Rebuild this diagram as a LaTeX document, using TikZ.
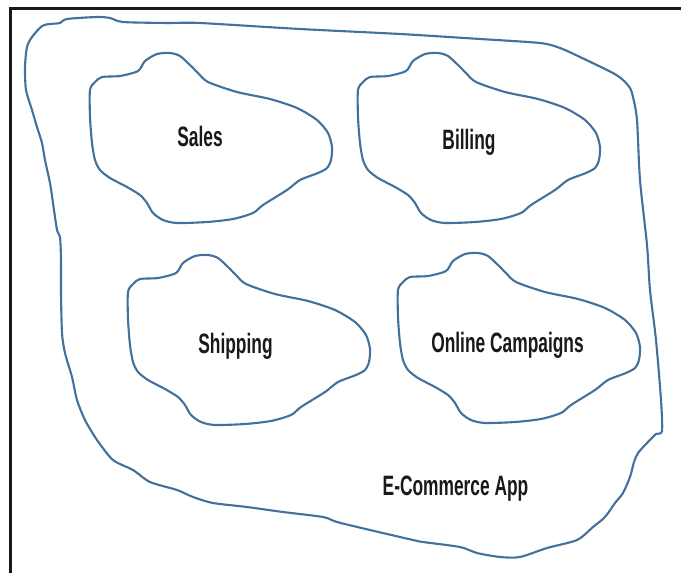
\documentclass[tikz,border=0pt]{standalone}
\usepackage{fontspec}
\newfontfamily\lblfont[FakeStretch=0.62]{Liberation Sans Bold}
\definecolor{blobblue}{RGB}{65,113,156}
\tikzset{
  blobline/.style={draw=blobblue, line width=2.1pt, line join=round},
  framepen/.style={draw=black!90, line width=3pt},
  lbl/.style={font=\lblfont\fontsize{28}{30}\selectfont, text=black!90, inner sep=0pt, anchor=base},
  blobpic/.pic={
    \path[blobline] plot[smooth cycle, tension=0.45] coordinates {
      (0,0) (5,-8) (12,-13) (30,-14) (48,-19) (55,-29) (67,-36) (80,-37) (90,-34)
      (100,-25) (108,-17) (118,-8) (147,2) (180,9) (207,18) (227,30) (238,43)
      (242,57) (241,70) (237,78) (228,83) (210,90) (197,100) (173,115) (163,123)
      (143,129) (117,132) (87,133) (73,130) (63,123) (57,113) (50,105) (37,97)
      (20,88) (10,80) (5,70) (2,53) (0,27)};
  }
}
\begin{document}
\begin{tikzpicture}[x=1pt,y=-1pt]
\useasboundingbox (0,0) rectangle (681,573);
\fill[white] (0,0) rectangle (681,573);
% frame (top and left edges)
\coordinate (fTR) at (681,8.7);
\coordinate (fTL) at (10.7,8.7);
\coordinate (fBL) at (10.7,573);
\draw[framepen] (fTR) -- (fTL) -- (fBL);
% outer region
\draw[blobline] plot[smooth cycle, tension=0.45] coordinates {
  (25,67) (27,47) (32,37) (42,26) (50,24) (60,23) (67,19) (97,17) (110,18)
  (123,22) (167,23) (200,23) (300,29) (400,34) (480,39) (540,43) (560,48)
  (580,57) (613,73) (623,80) (630,88) (633,97) (637,120) (640,180) (647,245)
  (650,290) (656,340) (661,400) (662,431) (656,434) (647,443) (638,453)
  (634,462) (630,477) (623,493) (615,503) (605,517) (593,527) (577,540)
  (547,548) (520,557) (500,557) (477,553) (460,547) (423,542) (413,540)
  (370,530) (337,522) (323,517) (283,512) (247,507) (213,503) (193,497)
  (177,490) (150,482) (133,470) (113,460) (97,440) (85,420) (77,400)
  (72,377) (65,353) (62,333) (61,293) (61,260) (60,237) (57,230) (53,203)
  (50,183) (45,160) (42,143) (37,127) (32,110) (26,90)};
% inner regions
\pic at (90,90) {blobpic};
\pic at (358,90) {blobpic};
\pic at (128,292) {blobpic};
\pic at (398,290) {blobpic};
% labels
\node[lbl] (sales) at (200,146) {Sales};
\node[lbl] (billing) at (469,149) {Billing};
\node[lbl] (shipping) at (235.5,353) {Shipping};
\node[lbl] (online) at (507.5,352) {Online Campaigns};
\node[lbl] (app) at (455.5,495) {E-Commerce App};
\end{tikzpicture}
\end{document}
